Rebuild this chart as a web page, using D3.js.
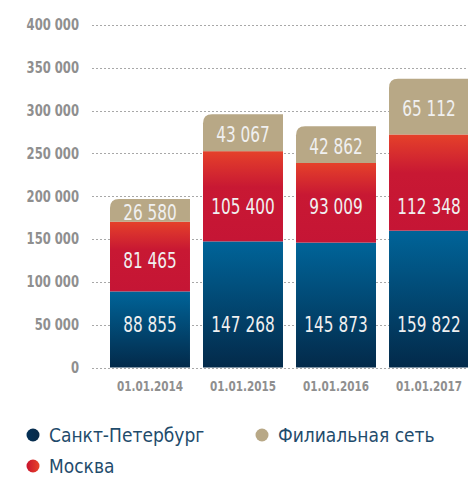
<!DOCTYPE html>
<html>
<head>
<meta charset="utf-8">
<script src="https://cdn.jsdelivr.net/npm/d3@7"></script>
<style>
  body { margin: 0; background: #fff; }
  svg { display: block; }
</style>
</head>
<body>
<div id="chart"></div>
<script>
const dates = ['01.01.2014', '01.01.2015', '01.01.2016', '01.01.2017'];
const spb = [88855, 147268, 145873, 159822];
const moscow = [81465, 105400, 93009, 112348];
const branches = [26580, 43067, 42862, 65112];
const yTicks = [0, 50000, 100000, 150000, 200000, 250000, 300000, 350000, 400000];
const legendNames = ['Санкт-Петербург', 'Москва', 'Филиальная сеть'];

const width = 468, height = 477;
const cond = '"DejaVu Sans Condensed", "DejaVu Sans", sans-serif';

const svg = d3.select('#chart')
  .append('svg')
  .attr('width', width)
  .attr('height', height);

const defs = svg.append('defs');

// gradients
const blueGrad = defs.append('linearGradient')
  .attr('id', 'gBlue').attr('x1', 0).attr('y1', 0).attr('x2', 0).attr('y2', 1);
blueGrad.append('stop').attr('offset', '0%').attr('stop-color', '#006499');
blueGrad.append('stop').attr('offset', '100%').attr('stop-color', '#032a4a');

const redGrad = defs.append('linearGradient')
  .attr('id', 'gRed').attr('x1', 0).attr('y1', 0).attr('x2', 0).attr('y2', 1);
redGrad.append('stop').attr('offset', '0%').attr('stop-color', '#e5412a');
redGrad.append('stop').attr('offset', '40%').attr('stop-color', '#c81833');
redGrad.append('stop').attr('offset', '100%').attr('stop-color', '#c51535');

const legBlue = defs.append('linearGradient')
  .attr('id', 'lBlue').attr('x1', 0).attr('y1', 0).attr('x2', 1).attr('y2', 0);
legBlue.append('stop').attr('offset', '0%').attr('stop-color', '#043157');
legBlue.append('stop').attr('offset', '100%').attr('stop-color', '#0a2a48');

const legRed = defs.append('linearGradient')
  .attr('id', 'lRed').attr('x1', 0).attr('y1', 0).attr('x2', 1).attr('y2', 0);
legRed.append('stop').attr('offset', '0%').attr('stop-color', '#c8142e');
legRed.append('stop').attr('offset', '100%').attr('stop-color', '#e8442a');

const y = d3.scaleLinear().domain([0, 400000]).range([367.5, 25]);
const x = d3.scaleBand().domain(dates).range([110, 469])
  .paddingInner(0.14).paddingOuter(0);

const fmt = d3.formatLocale({ decimal: ',', thousands: ' ', grouping: [3], currency: ['', ''] }).format(',');

// horizontally squeezed text (narrow DIN-like look)
function squeeze(sel, sx, xFn) {
  sel.attr('transform', 'scale(' + sx + ',1)')
    .attr('x', (d, i) => xFn(d, i) / sx);
}

// grid + y labels
const grid = svg.append('g');
grid.selectAll('line')
  .data(yTicks)
  .enter()
  .append('line')
  .attr('x1', 92)
  .attr('x2', width)
  .attr('y1', (d) => Math.round(y(d)) + 0.5)
  .attr('y2', (d) => Math.round(y(d)) + 0.5)
  .attr('stroke', '#a8a8a8')
  .attr('stroke-width', 1)
  .attr('stroke-dasharray', '2,2');

grid.selectAll('text')
  .data(yTicks)
  .enter()
  .append('text')
  .attr('y', (d) => y(d))
  .attr('dy', '0.36em')
  .attr('text-anchor', 'end')
  .attr('font-family', cond)
  .attr('font-size', 15)
  .attr('font-weight', 'bold')
  .attr('fill', '#8f8f8f')
  .call(squeeze, 0.86, () => 79)
  .text((d) => fmt(d));

// stacked data
const rows = dates.map((d, i) => ({ date: d, spb: spb[i], moscow: moscow[i], branches: branches[i] }));
const series = d3.stack().keys(['spb', 'moscow', 'branches'])(rows);
const fills = { spb: 'url(#gBlue)', moscow: 'url(#gRed)', branches: '#b8a886' };

const bars = svg.append('g');
series.forEach((s) => {
  const g = bars.append('g');
  if (s.key === 'branches') {
    // top segment with rounded top-left corner
    g.selectAll('path')
      .data(s)
      .enter()
      .append('path')
      .attr('fill', fills[s.key])
      .attr('d', (d) => {
        const x0 = x(d.data.date), x1 = x0 + x.bandwidth();
        const yt = y(d[1]), yb = y(d[0]), r = 9;
        return 'M' + x0 + ',' + yb + 'L' + x0 + ',' + (yt + r) +
          'Q' + x0 + ',' + yt + ' ' + (x0 + r) + ',' + yt +
          'L' + x1 + ',' + yt + 'L' + x1 + ',' + yb + 'Z';
      });
  } else {
    g.selectAll('rect')
      .data(s)
      .enter()
      .append('rect')
      .attr('x', (d) => x(d.data.date))
      .attr('y', (d) => y(d[1]))
      .attr('width', x.bandwidth())
      .attr('height', (d) => y(d[0]) - y(d[1]))
      .attr('fill', fills[s.key]);
  }

  g.selectAll('text')
    .data(s)
    .enter()
    .append('text')
    .attr('y', (d) => {
      const mid = (y(d[0]) + y(d[1])) / 2;
      if (s.key === 'spb') return y(50000);
      if (s.key === 'moscow') return Math.max(mid + 4, y(188000));
      return mid + 2;
    })
    .attr('dy', '0.36em')
    .attr('text-anchor', 'middle')
    .attr('font-family', cond)
    .attr('font-size', 20.5)
    .attr('fill', '#f0f0f0')
    .call(squeeze, 0.83, (d) => x(d.data.date) + x.bandwidth() / 2)
    .text((d) => fmt(d[1] - d[0]));
});

// x labels
svg.append('g')
  .selectAll('text')
  .data(dates)
  .enter()
  .append('text')
  .attr('y', 391)
  .attr('text-anchor', 'middle')
  .attr('font-family', cond)
  .attr('font-size', 14.5)
  .attr('font-weight', 'bold')
  .attr('fill', '#8f8f8f')
  .call(squeeze, 0.8, (d) => x(d) + x.bandwidth() / 2)
  .text((d) => d);

// legend
const legendPos = [[33, 435], [33, 466], [262, 435]];
const legendFills = ['url(#lBlue)', 'url(#lRed)', '#b8a886'];
const legend = svg.append('g')
  .selectAll('g')
  .data(legendNames)
  .enter()
  .append('g')
  .attr('transform', (d, i) => 'translate(' + legendPos[i][0] + ',' + legendPos[i][1] + ')');
legend.append('circle')
  .attr('r', 6.5)
  .attr('fill', (d, i) => legendFills[i]);
legend.append('text')
  .attr('x', 16)
  .attr('dy', '0.36em')
  .attr('font-family', cond)
  .attr('font-size', 19)
  .attr('fill', '#1f4c6c')
  .text((d) => d);
</script>
</body>
</html>
